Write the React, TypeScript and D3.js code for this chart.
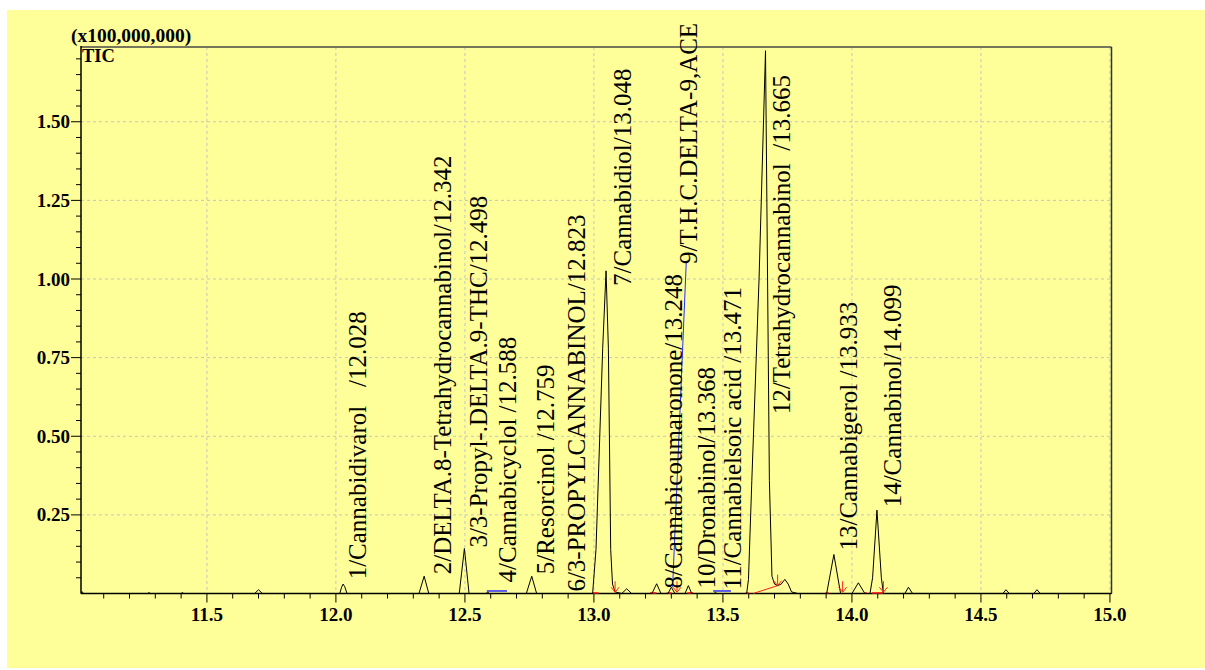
import React, { useEffect } from 'react';
import * as d3 from 'd3';

// ---- chromatogram trace (vertices) ----
const traceTime = [
  11.012, 11.016, 11.022, 11.27, 11.275, 11.28, 11.4, 11.405, 11.41,
  11.685, 11.7, 11.715,
  12.015, 12.022, 12.028, 12.034, 12.043,
  12.322, 12.342, 12.36,
  12.478, 12.498, 12.516,
  12.582, 12.588, 12.594,
  12.738, 12.759, 12.778,
  12.995, 13.008, 13.034, 13.047, 13.056, 13.065, 13.072, 13.082,
  13.108, 13.127, 13.146,
  13.225, 13.243, 13.26,
  13.287, 13.3, 13.314,
  13.353, 13.366, 13.379,
  13.465, 13.471, 13.477,
  13.592, 13.599, 13.612, 13.64, 13.665, 13.68, 13.69, 13.7, 13.712, 13.726, 13.74, 13.753, 13.766, 13.79,
  13.902, 13.93, 13.956,
  14.0, 14.025, 14.05,
  14.07, 14.08, 14.097, 14.114, 14.122,
  14.205, 14.219, 14.235,
  14.585, 14.597, 14.61,
  14.705, 14.717, 14.73,
  15.006,
];
const traceSignal = [
  0, 0.006, 0, 0, 0.003, 0, 0, 0.003, 0,
  0, 0.012, 0,
  0, 0.02, 0.03, 0.022, 0,
  0, 0.055, 0,
  0, 0.143, 0,
  0, 0.005, 0,
  0, 0.055, 0,
  0, 0.14, 0.78, 1.026, 0.78, 0.14, 0.03, 0.005,
  0, 0.015, 0,
  0, 0.031, 0,
  0, 0.02, 0,
  0, 0.025, 0,
  0, 0.003, 0,
  0, 0.045, 0.36, 1.0, 1.726, 0.36, 0.055, 0.03, 0.025, 0.03, 0.045, 0.03, 0.005, 0,
  0, 0.124, 0,
  0, 0.034, 0,
  0, 0.05, 0.265, 0.05, 0,
  0, 0.02, 0,
  0, 0.012, 0,
  0, 0.012, 0,
  0,
];

// ---- peak annotations ----
const peakLabels = [
  '1/Cannabidivarol   /12.028',
  '2/DELTA.8-Tetrahydrocannabinol/12.342',
  '3/3-Propyl-.DELTA.9-THC/12.498',
  '4/Cannabicyclol /12.588',
  '5/Resorcinol /12.759',
  '6/3-PROPYLCANNABINOL/12.823',
  '7/Cannabidiol/13.048',
  '8/Cannabicoumaronone/13.248',
  '9/T.H.C.DELTA-9,ACE',
  '10/Dronabinol/13.368',
  '11/Cannabielsoic acid /13.471',
  '12/Tetrahydrocannabinol  /13.665',
  '13/Cannabigerol /13.933',
  '14/Cannabinol/14.099',
];
const labelTime = [12.117, 12.446, 12.586, 12.698, 12.845, 12.965, 13.144, 13.342, 13.4, 13.47, 13.57, 13.76, 14.02, 14.19];
const labelLevel = [0.045, 0.061, 0.146, 0.035, 0.061, 0.006, 0.978, 0.016, 1.048, 0.016, 0.013, 0.57, 0.137, 0.274];

// ---- integration markers ----
const redDashStart = [12.996, 13.217, 13.282, 13.362, 13.588, 13.898, 14.05, 14.078];
const redDashEnd = [13.018, 13.242, 13.301, 13.385, 13.6, 13.91, 14.058, 14.122];
const redArrowTime = [13.082, 13.322, 13.712, 13.964, 14.122];
const redArrowLevel = [0.004, 0.004, 0.025, 0.004, 0.004];
const redSlant = [[13.617, 0.0], [13.712, 0.025]];
const blueBarStart = [12.585, 13.462];
const blueBarEnd = [12.663, 13.531];
const blueSlant = [[13.305, 0.02], [13.358, 1.055]];

// ---- axes ----
const xMajor = [11.5, 12.0, 12.5, 13.0, 13.5, 14.0, 14.5, 15.0];
const xMajorLabels = ['11.5', '12.0', '12.5', '13.0', '13.5', '14.0', '14.5', '15.0'];
const yMajor = [0.25, 0.5, 0.75, 1.0, 1.25, 1.5];
const yMajorLabels = ['0.25', '0.50', '0.75', '1.00', '1.25', '1.50'];
const scaleNote = '(x100,000,000)';
const traceName = 'TIC';

const W = 1205;
const H = 670;
const L = 81;
const R = 1111.5;
const T = 47;
const B = 593.5;
const SERIF = '"Liberation Serif", "Times New Roman", serif';
const BG = '#ffff99';

export default function App() {
  useEffect(() => {
    document.body.style.margin = '0';
  }, []);

  const x = d3.scaleLinear().domain([11.012, 15.006]).range([L, R]);
  const y = d3.scaleLinear().domain([0, 1.7377]).range([B, T]);

  const pts: [number, number][] = traceTime.map((t, i) => [t, traceSignal[i]]);
  const line = d3
    .line<[number, number]>()
    .x((d) => x(d[0]))
    .y((d) => y(d[1]))
    .curve(d3.curveLinear);

  const xMinor = d3.range(111, 151).map((v) => v / 10).filter((v) => Math.abs(v * 2 - Math.round(v * 2)) > 1e-6);
  const yMinor = d3.range(1, 35).map((v) => v * 0.05).filter((v) => Math.abs(v * 4 - Math.round(v * 4)) > 1e-6);

  return (
    <svg width={W} height={H} style={{ display: 'block' }}>
      <rect x={0} y={0} width={W} height={H} fill="#ffffff" />
      <defs>
        <clipPath id="panel">
          <rect x={7} y={10} width={W - 7} height={658} />
        </clipPath>
      </defs>
      <rect x={7} y={10} width={W - 7} height={658} fill={BG} />
      <g clipPath="url(#panel)">
        {/* grid */}
        {xMajor.map((v) => (
          <line key={'gx' + v} x1={x(v)} x2={x(v)} y1={T} y2={B} stroke="#c4c4c4" strokeDasharray="3,3" strokeWidth={1} />
        ))}
        {yMajor.map((v) => (
          <line key={'gy' + v} x1={L} x2={R} y1={y(v)} y2={y(v)} stroke="#c4c4c4" strokeDasharray="3,3" strokeWidth={1} />
        ))}

        {/* frame */}
        <line x1={L} x2={R} y1={T} y2={T} stroke="#76765a" strokeWidth={2} />
        <line x1={R} x2={R} y1={T} y2={B} stroke="#333333" strokeWidth={1.5} />
        <line x1={L} x2={L} y1={T - 1} y2={B} stroke="#000" strokeWidth={1.5} />
        <line x1={L} x2={R} y1={B} y2={B} stroke="#000" strokeWidth={1.5} />

        {/* x ticks */}
        {xMajor.map((v) => (
          <line key={'xt' + v} x1={x(v)} x2={x(v)} y1={B} y2={B + 9} stroke="#000" strokeWidth={1} />
        ))}
        {xMinor.map((v) => (
          <line key={'xm' + v} x1={x(v)} x2={x(v)} y1={B} y2={B + 5} stroke="#000" strokeWidth={1} />
        ))}
        {xMajor.map((v, i) => (
          <text key={'xl' + v} x={x(v)} y={621} textAnchor="middle" fontFamily={SERIF} fontWeight="bold" fontSize={19}>
            {xMajorLabels[i]}
          </text>
        ))}

        {/* y ticks */}
        {yMajor.map((v) => (
          <line key={'yt' + v} x1={L - 10} x2={L} y1={y(v)} y2={y(v)} stroke="#000" strokeWidth={1} />
        ))}
        {yMinor.map((v) => (
          <line key={'ym' + v} x1={L - 5} x2={L} y1={y(v)} y2={y(v)} stroke="#000" strokeWidth={1} />
        ))}
        {yMajor.map((v, i) => (
          <text key={'yl' + v} x={L - 11} y={y(v) + 6.5} textAnchor="end" fontFamily={SERIF} fontWeight="bold" fontSize={19}>
            {yMajorLabels[i]}
          </text>
        ))}

        <text x={71} y={41.5} fontFamily={SERIF} fontWeight="bold" fontSize={19.5}>
          {scaleNote}
        </text>
        <text x={82} y={62} fontFamily={SERIF} fontWeight="bold" fontSize={18.5}>
          {traceName}
        </text>

        {/* integration markers */}
        {blueBarStart.map((s, i) => (
          <line key={'bb' + i} x1={x(s)} x2={x(blueBarEnd[i])} y1={y(0.008)} y2={y(0.008)} stroke="#2a2aff" strokeWidth={1.5} />
        ))}
        <line x1={x(blueSlant[0][0])} y1={y(blueSlant[0][1])} x2={x(blueSlant[1][0])} y2={y(blueSlant[1][1])} stroke="#2a2aff" strokeWidth={1} />
        {redDashStart.map((s, i) => (
          <line key={'rd' + i} x1={x(s)} x2={x(redDashEnd[i])} y1={y(0.002)} y2={y(0.002)} stroke="#ff2020" strokeWidth={1.5} />
        ))}
        <line x1={x(redSlant[0][0])} y1={y(redSlant[0][1])} x2={x(redSlant[1][0])} y2={y(redSlant[1][1])} stroke="#ff2020" strokeWidth={1} />

        {/* trace */}
        <path d={line(pts) || ''} fill="none" stroke="#000" strokeWidth={1} />

        {redArrowTime.map((t, i) => {
          const px = x(t);
          const py = y(redArrowLevel[i]);
          return (
            <g key={'ra' + i} stroke="#ff2020" strokeWidth={1} fill="none">
              <line x1={px} x2={px} y1={py - 11} y2={py} />
              <polyline points={`${px - 4},${py - 5} ${px},${py} ${px + 4},${py - 5}`} />
            </g>
          );
        })}

        {/* peak labels */}
        {peakLabels.map((s, i) => (
          <text
            key={'pl' + i}
            transform={`translate(${x(labelTime[i])},${y(labelLevel[i])}) rotate(-90)`}
            fontFamily={SERIF}
            fontSize={25}
            style={{ whiteSpace: 'pre' }}
          >
            {s}
          </text>
        ))}
      </g>
    </svg>
  );
}
